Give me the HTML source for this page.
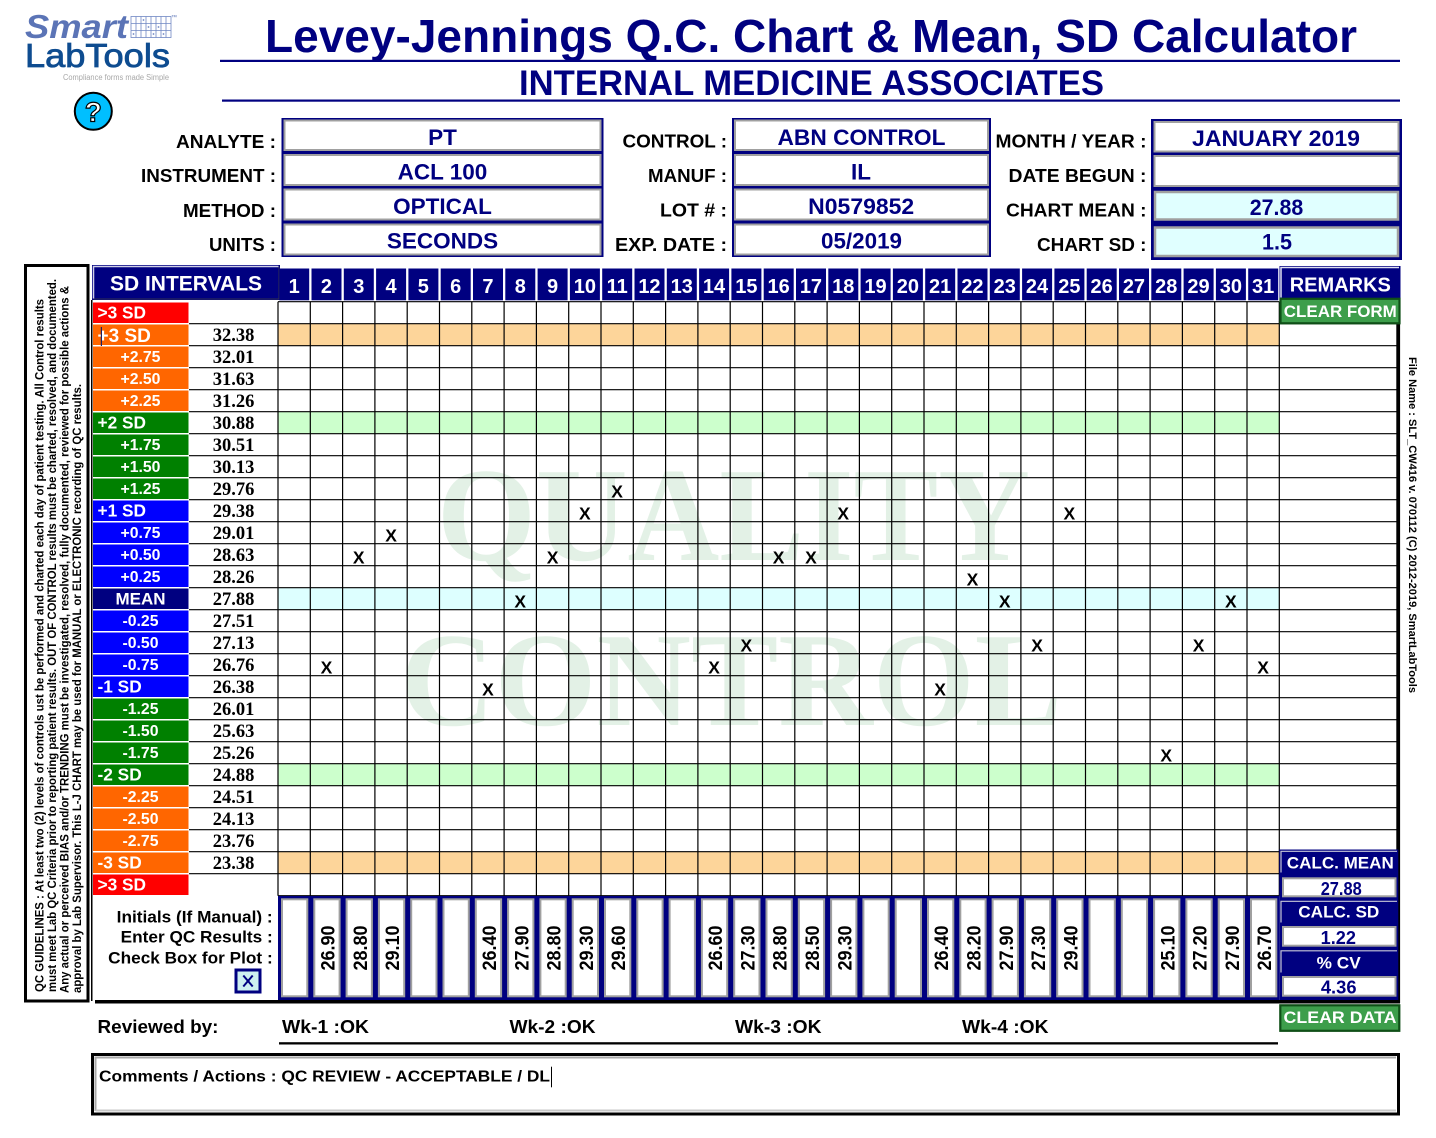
<!DOCTYPE html>
<html><head><meta charset="utf-8"><style>
html,body{margin:0;padding:0;background:#fff;}
svg{display:block;}
text{font-family:"Liberation Sans",Arial,sans-serif;}
.b{font-weight:bold;}
.ser text, text.ser{font-family:"Liberation Serif","Times New Roman",serif;font-weight:bold;}
</style></head><body>
<svg width="1436" height="1138" viewBox="0 0 1436 1138" xmlns="http://www.w3.org/2000/svg">
<rect width="1436" height="1138" fill="#fff"/>

<!-- LOGO -->
<text x="25" y="38" font-size="33" class="b" font-style="italic" fill="#5B74B6" textLength="103" lengthAdjust="spacingAndGlyphs">Smart</text>
<g stroke="#7088C4" stroke-width="0.8" fill="none">
<rect x="131" y="16.5" width="40" height="21"/>
<path d="M136 16.5V37.5M141 16.5V37.5M146 16.5V37.5M151 16.5V37.5M156 16.5V37.5M161 16.5V37.5M166 16.5V37.5M131 23.5H171M131 30.5H171"/>
</g>
<g fill="#7088C4"><circle cx="143.5" cy="20" r="0.9"/><circle cx="148.5" cy="27" r="0.9"/><circle cx="133.5" cy="34" r="0.9"/><circle cx="153.5" cy="34" r="0.9"/><circle cx="163.5" cy="34" r="0.9"/><circle cx="158.5" cy="27" r="0.9"/></g>
<text x="171" y="19" font-size="6" fill="#5B74B6">™</text>
<text x="25" y="67" font-size="33" fill="#0E4C90" stroke="#0E4C90" stroke-width="0.8" textLength="145" lengthAdjust="spacingAndGlyphs">LabTools</text>
<text x="63" y="80" font-size="8" fill="#A8A8A8" textLength="106" lengthAdjust="spacingAndGlyphs">Compliance forms made Simple</text>
<circle cx="93.3" cy="111.3" r="18.5" fill="#00BFFF" stroke="#000" stroke-width="2"/>
<text x="93.3" y="121.5" font-size="28" class="b" fill="#fff" stroke="#000" stroke-width="1.2" text-anchor="middle">?</text>

<!-- TITLE -->
<text x="265" y="52" font-size="46" class="b" fill="#000080" textLength="1092" lengthAdjust="spacingAndGlyphs">Levey-Jennings Q.C. Chart &amp; Mean, SD Calculator</text>
<rect x="220" y="59.8" width="1180" height="2.2" fill="#000080"/>
<text x="519" y="95" font-size="35" class="b" fill="#000080" textLength="585" lengthAdjust="spacingAndGlyphs">INTERNAL MEDICINE ASSOCIATES</text>
<rect x="222" y="99.5" width="1178" height="2.2" fill="#000080"/>

<!-- HEADER LABELS -->
<g font-size="18.5" class="b" fill="#000" text-anchor="end">
<text x="276" y="148" textLength="100" lengthAdjust="spacingAndGlyphs">ANALYTE :</text>
<text x="276" y="182" textLength="135" lengthAdjust="spacingAndGlyphs">INSTRUMENT :</text>
<text x="276" y="217" textLength="93" lengthAdjust="spacingAndGlyphs">METHOD :</text>
<text x="276" y="251" textLength="67" lengthAdjust="spacingAndGlyphs">UNITS :</text>
<text x="727" y="147.5" textLength="104.5" lengthAdjust="spacingAndGlyphs">CONTROL :</text>
<text x="727" y="182" textLength="79" lengthAdjust="spacingAndGlyphs">MANUF :</text>
<text x="727" y="216.5" textLength="67" lengthAdjust="spacingAndGlyphs">LOT # :</text>
<text x="727" y="251" textLength="112" lengthAdjust="spacingAndGlyphs">EXP. DATE :</text>
<text x="1146.5" y="147.5" textLength="151" lengthAdjust="spacingAndGlyphs">MONTH / YEAR :</text>
<text x="1146.5" y="182" textLength="138" lengthAdjust="spacingAndGlyphs">DATE BEGUN :</text>
<text x="1146.5" y="216.5" textLength="140.5" lengthAdjust="spacingAndGlyphs">CHART MEAN :</text>
<text x="1146.5" y="251" textLength="109.5" lengthAdjust="spacingAndGlyphs">CHART SD :</text>
</g>

<!-- HEADER BOXES -->
<rect x="281.5" y="118" width="322" height="139" fill="#000080"/>
<g fill="#fff" stroke="#A0A0A0" stroke-width="2">
<rect x="284.5" y="120.5" width="316" height="29.5"/>
<rect x="284.5" y="155" width="316" height="30"/>
<rect x="284.5" y="189.5" width="316" height="30"/>
<rect x="284.5" y="224.5" width="316" height="30"/>
</g>
<rect x="732" y="118" width="259" height="139" fill="#000080"/>
<g fill="#fff" stroke="#A0A0A0" stroke-width="2">
<rect x="735" y="120.5" width="253" height="29.5"/>
<rect x="735" y="155" width="253" height="30"/>
<rect x="735" y="189.5" width="253" height="30"/>
<rect x="735" y="224.5" width="253" height="30"/>
</g>
<rect x="1151" y="119" width="251" height="141" fill="#000080"/>
<g stroke="#A0A0A0" stroke-width="2">
<rect x="1154.5" y="122" width="244" height="29.5" fill="#fff"/>
<rect x="1154.5" y="156" width="244" height="30" fill="#fff"/>
<rect x="1155" y="192" width="243" height="27.5" fill="#E0FFFF" stroke-width="2.5"/>
<rect x="1155" y="227.5" width="243" height="28.5" fill="#E0FFFF" stroke-width="2.5"/>
</g>
<g font-size="22.5" class="b" fill="#000080" text-anchor="middle">
<text x="442.5" y="145">PT</text>
<text x="442.5" y="179.5">ACL 100</text>
<text x="442.5" y="214">OPTICAL</text>
<text x="442.5" y="248.5">SECONDS</text>
<text x="861.5" y="145" textLength="168" lengthAdjust="spacingAndGlyphs">ABN CONTROL</text>
<text x="861" y="179.5">IL</text>
<text x="861.2" y="214" textLength="106" lengthAdjust="spacingAndGlyphs">N0579852</text>
<text x="861.5" y="248.5" textLength="81" lengthAdjust="spacingAndGlyphs">05/2019</text>
<text x="1276" y="146" textLength="168" lengthAdjust="spacingAndGlyphs">JANUARY 2019</text>
<text x="1276.5" y="215" textLength="53.5" lengthAdjust="spacingAndGlyphs">27.88</text>
<text x="1277" y="249.5" textLength="30" lengthAdjust="spacingAndGlyphs">1.5</text>
</g>

<!-- GUIDELINES BOX -->
<rect x="25.5" y="265.5" width="62.5" height="735.5" fill="#fff" stroke="#000" stroke-width="3"/>
<g font-size="11.5" class="b" fill="#000">
<text transform="translate(43.5,992) rotate(-90)" textLength="693" lengthAdjust="spacingAndGlyphs">QC GUIDELINES : At least two (2) levels of controls ust be performed and charted each day of patient testing. All Control results</text>
<text transform="translate(56,992) rotate(-90)" textLength="713" lengthAdjust="spacingAndGlyphs">must meet Lab QC Criteria prior to reporting patient results. OUT OF CONTROL results must be charted, resolved, and documented.</text>
<text transform="translate(68.5,993) rotate(-90)" textLength="707" lengthAdjust="spacingAndGlyphs">Any actual or perceived BIAS and/or TRENDING must be investigated, resolved, fully documented, reviewed for possible actions &amp;</text>
<text transform="translate(81,993) rotate(-90)" textLength="609" lengthAdjust="spacingAndGlyphs">approval by Lab Supervisor.  This L-J CHART may be used for MANUAL or ELECTRONIC recording of QC results.</text>
</g>

<!-- WATERMARK -->
<g class="ser" fill="#E3F1E6" font-size="134">
<text x="437" y="560" textLength="593" lengthAdjust="spacingAndGlyphs">QUALITY</text>
<text x="400" y="725" textLength="662" lengthAdjust="spacingAndGlyphs">CONTROL</text>
</g>

<!-- ROW BACKGROUNDS -->
<rect x="278" y="323.7" width="1001.3" height="22" fill="#FDD59A"/>
<rect x="278" y="851.7" width="1001.3" height="22" fill="#FDD59A"/>
<rect x="278" y="411.7" width="1001.3" height="22" fill="#CCFFCC"/>
<rect x="278" y="763.7" width="1001.3" height="22" fill="#CCFFCC"/>
<rect x="278" y="587.7" width="1001.3" height="22" fill="#DDFFFF"/>

<!-- GRID LINES -->
<path fill="none" stroke="#000" stroke-width="1.2" d="M278 301.7V895.7M310.3 301.7V895.7M342.6 301.7V895.7M374.9 301.7V895.7M407.2 301.7V895.7M439.5 301.7V895.7M471.8 301.7V895.7M504.1 301.7V895.7M536.4 301.7V895.7M568.7 301.7V895.7M601 301.7V895.7M633.3 301.7V895.7M665.6 301.7V895.7M697.9 301.7V895.7M730.2 301.7V895.7M762.5 301.7V895.7M794.8 301.7V895.7M827.1 301.7V895.7M859.4 301.7V895.7M891.7 301.7V895.7M924 301.7V895.7M956.3 301.7V895.7M988.6 301.7V895.7M1020.9 301.7V895.7M1053.2 301.7V895.7M1085.5 301.7V895.7M1117.8 301.7V895.7M1150.1 301.7V895.7M1182.4 301.7V895.7M1214.7 301.7V895.7M1247 301.7V895.7M1279.3 301.7V895.7
M278 301.7H1279.3M189 323.7H1397M189 345.7H1397M189 367.7H1397M189 389.7H1397M189 411.7H1397M189 433.7H1397M189 455.7H1397M189 477.7H1397M189 499.7H1397M189 521.7H1397M189 543.7H1397M189 565.7H1397M189 587.7H1397M189 609.7H1397M189 631.7H1397M189 653.7H1397M189 675.7H1397M189 697.7H1397M189 719.7H1397M189 741.7H1397M189 763.7H1397M189 785.7H1397M189 807.7H1397M189 829.7H1397M189 851.7H1279.3M189 873.7H1279.3M278 895.7H1279.3"/>

<!-- left thin line -->
<rect x="91" y="300" width="1.5" height="701" fill="#000"/>

<!-- SD INTERVALS header -->
<rect x="92" y="265" width="188" height="35" fill="#000080"/>
<polyline points="93.5,298.5 93.5,266.5 278.5,266.5" fill="none" stroke="#D0D0E8" stroke-width="1.5"/>
<polyline points="93.5,299 279,299 279,266.5" fill="none" stroke="#303050" stroke-width="1"/>
<text x="186" y="290.3" font-size="21" class="b" fill="#fff" text-anchor="middle">SD INTERVALS</text>

<!-- DAY HEADER CELLS -->
<g fill="#000080">
<rect x="279.2" y="268.5" width="30" height="31.8"/><rect x="311.5" y="268.5" width="30" height="31.8"/><rect x="343.8" y="268.5" width="30" height="31.8"/><rect x="376.1" y="268.5" width="30" height="31.8"/><rect x="408.4" y="268.5" width="30" height="31.8"/><rect x="440.7" y="268.5" width="30" height="31.8"/><rect x="473" y="268.5" width="30" height="31.8"/><rect x="505.3" y="268.5" width="30" height="31.8"/><rect x="537.6" y="268.5" width="30" height="31.8"/><rect x="569.9" y="268.5" width="30" height="31.8"/><rect x="602.2" y="268.5" width="30" height="31.8"/><rect x="634.5" y="268.5" width="30" height="31.8"/><rect x="666.8" y="268.5" width="30" height="31.8"/><rect x="699.1" y="268.5" width="30" height="31.8"/><rect x="731.4" y="268.5" width="30" height="31.8"/><rect x="763.7" y="268.5" width="30" height="31.8"/><rect x="796" y="268.5" width="30" height="31.8"/><rect x="828.3" y="268.5" width="30" height="31.8"/><rect x="860.6" y="268.5" width="30" height="31.8"/><rect x="892.9" y="268.5" width="30" height="31.8"/><rect x="925.2" y="268.5" width="30" height="31.8"/><rect x="957.5" y="268.5" width="30" height="31.8"/><rect x="989.8" y="268.5" width="30" height="31.8"/><rect x="1022.1" y="268.5" width="30" height="31.8"/><rect x="1054.4" y="268.5" width="30" height="31.8"/><rect x="1086.7" y="268.5" width="30" height="31.8"/><rect x="1119" y="268.5" width="30" height="31.8"/><rect x="1151.3" y="268.5" width="30" height="31.8"/><rect x="1183.6" y="268.5" width="30" height="31.8"/><rect x="1215.9" y="268.5" width="30" height="31.8"/><rect x="1248.2" y="268.5" width="30" height="31.8"/>
</g>
<g font-size="20" class="b" fill="#fff" text-anchor="middle">
<text x="294.15" y="293">1</text><text x="326.45" y="293">2</text><text x="358.75" y="293">3</text><text x="391.05" y="293">4</text><text x="423.35" y="293">5</text><text x="455.65" y="293">6</text><text x="487.95" y="293">7</text><text x="520.25" y="293">8</text><text x="552.55" y="293">9</text><text x="584.85" y="293">10</text><text x="617.15" y="293">11</text><text x="649.45" y="293">12</text><text x="681.75" y="293">13</text><text x="714.05" y="293">14</text><text x="746.35" y="293">15</text><text x="778.65" y="293">16</text><text x="810.95" y="293">17</text><text x="843.25" y="293">18</text><text x="875.55" y="293">19</text><text x="907.85" y="293">20</text><text x="940.15" y="293">21</text><text x="972.45" y="293">22</text><text x="1004.75" y="293">23</text><text x="1037.05" y="293">24</text><text x="1069.35" y="293">25</text><text x="1101.65" y="293">26</text><text x="1133.95" y="293">27</text><text x="1166.25" y="293">28</text><text x="1198.55" y="293">29</text><text x="1230.85" y="293">30</text><text x="1263.15" y="293">31</text>
</g>

<!-- LABEL CELLS -->
<g>
<rect x="93" y="302.5" width="95.5" height="20.5" fill="#FF0000"/>
<rect x="93" y="324.5" width="95.5" height="20.5" fill="#FF6600"/>
<rect x="93" y="346.5" width="95.5" height="20.5" fill="#FF6600"/>
<rect x="93" y="368.5" width="95.5" height="20.5" fill="#FF6600"/>
<rect x="93" y="390.5" width="95.5" height="20.5" fill="#FF6600"/>
<rect x="93" y="412.5" width="95.5" height="20.5" fill="#008000"/>
<rect x="93" y="434.5" width="95.5" height="20.5" fill="#008000"/>
<rect x="93" y="456.5" width="95.5" height="20.5" fill="#008000"/>
<rect x="93" y="478.5" width="95.5" height="20.5" fill="#008000"/>
<rect x="93" y="500.5" width="95.5" height="20.5" fill="#0000FF"/>
<rect x="93" y="522.5" width="95.5" height="20.5" fill="#0000FF"/>
<rect x="93" y="544.5" width="95.5" height="20.5" fill="#0000FF"/>
<rect x="93" y="566.5" width="95.5" height="20.5" fill="#0000FF"/>
<rect x="93" y="588.5" width="95.5" height="20.5" fill="#000080"/>
<rect x="93" y="610.5" width="95.5" height="20.5" fill="#0000FF"/>
<rect x="93" y="632.5" width="95.5" height="20.5" fill="#0000FF"/>
<rect x="93" y="654.5" width="95.5" height="20.5" fill="#0000FF"/>
<rect x="93" y="676.5" width="95.5" height="20.5" fill="#0000FF"/>
<rect x="93" y="698.5" width="95.5" height="20.5" fill="#008000"/>
<rect x="93" y="720.5" width="95.5" height="20.5" fill="#008000"/>
<rect x="93" y="742.5" width="95.5" height="20.5" fill="#008000"/>
<rect x="93" y="764.5" width="95.5" height="20.5" fill="#008000"/>
<rect x="93" y="786.5" width="95.5" height="20.5" fill="#FF6600"/>
<rect x="93" y="808.5" width="95.5" height="20.5" fill="#FF6600"/>
<rect x="93" y="830.5" width="95.5" height="20.5" fill="#FF6600"/>
<rect x="93" y="852.5" width="95.5" height="20.5" fill="#FF6600"/>
<rect x="93" y="874.5" width="95.5" height="20.5" fill="#FF0000"/>
</g>
<g class="b" fill="#fff" font-size="17.3">
<text x="97.5" y="318.7">&gt;3 SD</text>
<text x="97.5" y="342" font-size="19">+3 SD</text>
<text x="97.5" y="428.7">+2 SD</text>
<text x="97.5" y="516.7">+1 SD</text>
<text x="97.5" y="692.7">-1 SD</text>
<text x="97.5" y="780.7">-2 SD</text>
<text x="97.5" y="868.7">-3 SD</text>
<text x="97.5" y="890.7">&gt;3 SD</text>
</g>
<rect x="100.8" y="327" width="1.2" height="19" fill="#202060"/>
<g class="b" fill="#fff" font-size="15.8" text-anchor="middle">
<text x="140.5" y="362.2">+2.75</text>
<text x="140.5" y="384.2">+2.50</text>
<text x="140.5" y="406.2">+2.25</text>
<text x="140.5" y="450.2">+1.75</text>
<text x="140.5" y="472.2">+1.50</text>
<text x="140.5" y="494.2">+1.25</text>
<text x="140.5" y="538.2">+0.75</text>
<text x="140.5" y="560.2">+0.50</text>
<text x="140.5" y="582.2">+0.25</text>
<text x="140.5" y="604.7" font-size="17">MEAN</text>
<text x="140.5" y="626.2">-0.25</text>
<text x="140.5" y="648.2">-0.50</text>
<text x="140.5" y="670.2">-0.75</text>
<text x="140.5" y="714.2">-1.25</text>
<text x="140.5" y="736.2">-1.50</text>
<text x="140.5" y="758.2">-1.75</text>
<text x="140.5" y="802.2">-2.25</text>
<text x="140.5" y="824.2">-2.50</text>
<text x="140.5" y="846.2">-2.75</text>
</g>

<!-- VALUES -->
<g class="ser" font-size="18.5" fill="#000" text-anchor="middle">
<text x="233.5" y="340.9">32.38</text>
<text x="233.5" y="362.9">32.01</text>
<text x="233.5" y="384.9">31.63</text>
<text x="233.5" y="406.9">31.26</text>
<text x="233.5" y="428.9">30.88</text>
<text x="233.5" y="450.9">30.51</text>
<text x="233.5" y="472.9">30.13</text>
<text x="233.5" y="494.9">29.76</text>
<text x="233.5" y="516.9">29.38</text>
<text x="233.5" y="538.9">29.01</text>
<text x="233.5" y="560.9">28.63</text>
<text x="233.5" y="582.9">28.26</text>
<text x="233.5" y="604.9">27.88</text>
<text x="233.5" y="626.9">27.51</text>
<text x="233.5" y="648.9">27.13</text>
<text x="233.5" y="670.9">26.76</text>
<text x="233.5" y="692.9">26.38</text>
<text x="233.5" y="714.9">26.01</text>
<text x="233.5" y="736.9">25.63</text>
<text x="233.5" y="758.9">25.26</text>
<text x="233.5" y="780.9">24.88</text>
<text x="233.5" y="802.9">24.51</text>
<text x="233.5" y="824.9">24.13</text>
<text x="233.5" y="846.9">23.76</text>
<text x="233.5" y="868.9">23.38</text>
</g>

<!-- X MARKS -->
<g class="b" font-size="17.5" fill="#000" text-anchor="middle">
<text x="326.45" y="673.7">X</text>
<text x="358.75" y="563.7">X</text>
<text x="391.05" y="541.7">X</text>
<text x="487.95" y="695.7">X</text>
<text x="520.25" y="607.7">X</text>
<text x="552.55" y="563.7">X</text>
<text x="584.85" y="519.7">X</text>
<text x="617.15" y="497.7">X</text>
<text x="714.05" y="673.7">X</text>
<text x="746.35" y="651.7">X</text>
<text x="778.65" y="563.7">X</text>
<text x="810.95" y="563.7">X</text>
<text x="843.25" y="519.7">X</text>
<text x="940.15" y="695.7">X</text>
<text x="972.45" y="585.7">X</text>
<text x="1004.75" y="607.7">X</text>
<text x="1037.05" y="651.7">X</text>
<text x="1069.35" y="519.7">X</text>
<text x="1166.25" y="761.7">X</text>
<text x="1198.55" y="651.7">X</text>
<text x="1230.85" y="607.7">X</text>
<text x="1263.15" y="673.7">X</text>
</g>

<!-- ENTRY ROW -->
<rect x="278" y="896" width="1001.3" height="104" fill="#000080"/>
<g fill="#fff" stroke="#A0A0A0" stroke-width="2">
<rect x="282" y="899.3" width="25.3" height="97"/><rect x="314.3" y="899.3" width="25.3" height="97"/><rect x="346.6" y="899.3" width="25.3" height="97"/><rect x="378.9" y="899.3" width="25.3" height="97"/><rect x="411.2" y="899.3" width="25.3" height="97"/><rect x="443.5" y="899.3" width="25.3" height="97"/><rect x="475.8" y="899.3" width="25.3" height="97"/><rect x="508.1" y="899.3" width="25.3" height="97"/><rect x="540.4" y="899.3" width="25.3" height="97"/><rect x="572.7" y="899.3" width="25.3" height="97"/><rect x="605" y="899.3" width="25.3" height="97"/><rect x="637.3" y="899.3" width="25.3" height="97"/><rect x="669.6" y="899.3" width="25.3" height="97"/><rect x="701.9" y="899.3" width="25.3" height="97"/><rect x="734.2" y="899.3" width="25.3" height="97"/><rect x="766.5" y="899.3" width="25.3" height="97"/><rect x="798.8" y="899.3" width="25.3" height="97"/><rect x="831.1" y="899.3" width="25.3" height="97"/><rect x="863.4" y="899.3" width="25.3" height="97"/><rect x="895.7" y="899.3" width="25.3" height="97"/><rect x="928" y="899.3" width="25.3" height="97"/><rect x="960.3" y="899.3" width="25.3" height="97"/><rect x="992.6" y="899.3" width="25.3" height="97"/><rect x="1024.9" y="899.3" width="25.3" height="97"/><rect x="1057.2" y="899.3" width="25.3" height="97"/><rect x="1089.5" y="899.3" width="25.3" height="97"/><rect x="1121.8" y="899.3" width="25.3" height="97"/><rect x="1154.1" y="899.3" width="25.3" height="97"/><rect x="1186.4" y="899.3" width="25.3" height="97"/><rect x="1218.7" y="899.3" width="25.3" height="97"/><rect x="1251" y="899.3" width="25.3" height="97"/>
</g>
<g class="b" font-size="19" fill="#000" text-anchor="middle">
<text transform="translate(334.45,948) rotate(-90)" textLength="45" lengthAdjust="spacingAndGlyphs">26.90</text>
<text transform="translate(366.75,948) rotate(-90)" textLength="45" lengthAdjust="spacingAndGlyphs">28.80</text>
<text transform="translate(399.05,948) rotate(-90)" textLength="45" lengthAdjust="spacingAndGlyphs">29.10</text>
<text transform="translate(495.95,948) rotate(-90)" textLength="45" lengthAdjust="spacingAndGlyphs">26.40</text>
<text transform="translate(528.25,948) rotate(-90)" textLength="45" lengthAdjust="spacingAndGlyphs">27.90</text>
<text transform="translate(560.55,948) rotate(-90)" textLength="45" lengthAdjust="spacingAndGlyphs">28.80</text>
<text transform="translate(592.85,948) rotate(-90)" textLength="45" lengthAdjust="spacingAndGlyphs">29.30</text>
<text transform="translate(625.15,948) rotate(-90)" textLength="45" lengthAdjust="spacingAndGlyphs">29.60</text>
<text transform="translate(722.05,948) rotate(-90)" textLength="45" lengthAdjust="spacingAndGlyphs">26.60</text>
<text transform="translate(754.35,948) rotate(-90)" textLength="45" lengthAdjust="spacingAndGlyphs">27.30</text>
<text transform="translate(786.65,948) rotate(-90)" textLength="45" lengthAdjust="spacingAndGlyphs">28.80</text>
<text transform="translate(818.95,948) rotate(-90)" textLength="45" lengthAdjust="spacingAndGlyphs">28.50</text>
<text transform="translate(851.25,948) rotate(-90)" textLength="45" lengthAdjust="spacingAndGlyphs">29.30</text>
<text transform="translate(948.15,948) rotate(-90)" textLength="45" lengthAdjust="spacingAndGlyphs">26.40</text>
<text transform="translate(980.45,948) rotate(-90)" textLength="45" lengthAdjust="spacingAndGlyphs">28.20</text>
<text transform="translate(1012.75,948) rotate(-90)" textLength="45" lengthAdjust="spacingAndGlyphs">27.90</text>
<text transform="translate(1045.05,948) rotate(-90)" textLength="45" lengthAdjust="spacingAndGlyphs">27.30</text>
<text transform="translate(1077.35,948) rotate(-90)" textLength="45" lengthAdjust="spacingAndGlyphs">29.40</text>
<text transform="translate(1174.25,948) rotate(-90)" textLength="45" lengthAdjust="spacingAndGlyphs">25.10</text>
<text transform="translate(1206.55,948) rotate(-90)" textLength="45" lengthAdjust="spacingAndGlyphs">27.20</text>
<text transform="translate(1238.85,948) rotate(-90)" textLength="45" lengthAdjust="spacingAndGlyphs">27.90</text>
<text transform="translate(1271.15,948) rotate(-90)" textLength="45" lengthAdjust="spacingAndGlyphs">26.70</text>
</g>

<!-- ENTRY LABELS -->
<g class="b" font-size="16.6" fill="#000" text-anchor="end">
<text x="272.7" y="922.7" textLength="156" lengthAdjust="spacingAndGlyphs">Initials (If Manual) :</text>
<text x="272.7" y="942.7" textLength="152" lengthAdjust="spacingAndGlyphs">Enter QC Results :</text>
<text x="272.7" y="963.3" textLength="164.5" lengthAdjust="spacingAndGlyphs">Check Box for Plot :</text>
</g>
<rect x="234.5" y="968.5" width="27" height="25" fill="#000080"/>
<rect x="237.5" y="971.5" width="21" height="19" fill="#CDEFF0"/>
<path d="M243.3 975.5L252.7 986.5M252.7 975.5L243.3 986.5" stroke="#000080" stroke-width="2"/>

<!-- RIGHT THICK LINE & BOTTOM LINE -->
<rect x="1396.3" y="323" width="3.8" height="680" fill="#000"/>
<rect x="95" y="1000" width="1305" height="3.5" fill="#000"/>

<!-- REMARKS -->
<rect x="1279.5" y="266" width="121" height="32.5" fill="#000080"/>
<polyline points="1281,297.5 1281,267.5 1399,267.5" fill="none" stroke="#E0E0F0" stroke-width="1.5"/>
<text x="1340.3" y="291.3" font-size="20" class="b" fill="#fff" text-anchor="middle">REMARKS</text>
<rect x="1280.5" y="298.8" width="119" height="24.5" fill="#3D9E4B" stroke="#0F4F17" stroke-width="2.2"/>
<text x="1340.3" y="317" font-size="17" class="b" fill="#fff" text-anchor="middle" textLength="113" lengthAdjust="spacingAndGlyphs">CLEAR FORM</text>

<!-- CALC AREA -->
<rect x="1279.3" y="849.5" width="119" height="150.5" fill="#000080"/>
<g fill="none" stroke="#C8C8D8" stroke-width="1.2">
<polyline points="1281,872.5 1281,851.3 1397,851.3"/>
<polyline points="1281,922.5 1281,901.3 1397,901.3"/>
<polyline points="1281,972.5 1281,950.8 1397,950.8"/>
</g>
<g fill="#fff" stroke="#A0A0A0" stroke-width="2">
<rect x="1283" y="878.3" width="112.5" height="18"/>
<rect x="1283" y="927" width="112.5" height="18.7"/>
<rect x="1283" y="977" width="112.5" height="18.7"/>
</g>
<g class="b" fill="#fff" text-anchor="middle" font-size="17">
<text x="1340.3" y="868.5" textLength="107" lengthAdjust="spacingAndGlyphs">CALC. MEAN</text>
<text x="1338.8" y="917.7" textLength="81" lengthAdjust="spacingAndGlyphs">CALC. SD</text>
<text x="1338.7" y="968.3" textLength="44" lengthAdjust="spacingAndGlyphs">% CV</text>
</g>
<g class="b" fill="#000080" text-anchor="middle" font-size="18.5">
<text x="1341.2" y="895" textLength="41" lengthAdjust="spacingAndGlyphs">27.88</text>
<text x="1338.3" y="944" textLength="35.3" lengthAdjust="spacingAndGlyphs">1.22</text>
<text x="1338.7" y="993.3" textLength="35.7" lengthAdjust="spacingAndGlyphs">4.36</text>
</g>
<rect x="1280.3" y="1005.3" width="119" height="25.5" fill="#3D9E4B" stroke="#0F4F17" stroke-width="2.2"/>
<text x="1340" y="1023" font-size="17" class="b" fill="#fff" text-anchor="middle" textLength="113" lengthAdjust="spacingAndGlyphs">CLEAR DATA</text>

<!-- FILE NAME -->
<text transform="translate(1409,357) rotate(90)" font-size="11" class="b" fill="#000" textLength="336" lengthAdjust="spacingAndGlyphs">File Name : SLT_CW416 v. 070112  (C) 2012-2019, SmartLabTools</text>

<!-- REVIEWED -->
<g class="b" font-size="18.5" fill="#000">
<text x="97.5" y="1033" textLength="121" lengthAdjust="spacingAndGlyphs">Reviewed by:</text>
<text x="282" y="1033" textLength="87" lengthAdjust="spacingAndGlyphs">Wk-1 :OK</text>
<text x="509.5" y="1033" textLength="86" lengthAdjust="spacingAndGlyphs">Wk-2 :OK</text>
<text x="735" y="1033" textLength="86.5" lengthAdjust="spacingAndGlyphs">Wk-3 :OK</text>
<text x="962" y="1033" textLength="86.5" lengthAdjust="spacingAndGlyphs">Wk-4 :OK</text>
</g>
<rect x="279" y="1042.2" width="999" height="2.3" fill="#000"/>

<!-- COMMENTS -->
<rect x="92.5" y="1054.5" width="1306" height="59.5" fill="#fff" stroke="#000" stroke-width="3"/>
<polyline points="95.5,1111 95.5,1057.5 1396,1057.5" fill="none" stroke="#A8A8A8" stroke-width="2"/>
<line x1="95.5" y1="1110.5" x2="1396" y2="1110.5" stroke="#C8C8C8" stroke-width="2"/>
<text x="99" y="1081.7" font-size="16" class="b" fill="#000" textLength="451" lengthAdjust="spacingAndGlyphs">Comments / Actions : QC REVIEW - ACCEPTABLE / DL</text>
<rect x="551" y="1066.7" width="1" height="20.6" fill="#000"/>
</svg>
</body></html>
